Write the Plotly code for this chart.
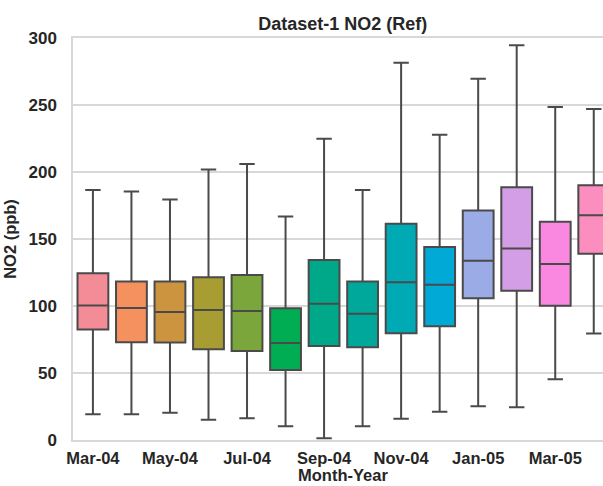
import plotly.graph_objects as go

# Monthly NO2 distribution summaries (ppb)
months = ["Mar-04", "Apr-04", "May-04", "Jun-04", "Jul-04", "Aug-04", "Sep-04",
          "Oct-04", "Nov-04", "Dec-04", "Jan-05", "Feb-05", "Mar-05", "Apr-05"]
lower_whisker = [19.2, 19.2, 20.4, 15.2, 16.2, 10.2, 1.3, 10.2, 15.9, 21.1, 25.2, 24.4, 45.3, 79.4]
q1 = [82.4, 73.0, 72.7, 67.7, 66.5, 52.3, 70.2, 69.2, 79.7, 84.9, 105.8, 111.3, 100.1, 138.9]
median = [100.3, 98.6, 95.6, 97.1, 96.3, 72.4, 101.6, 94.3, 117.8, 115.8, 133.7, 142.9, 131.4, 167.8]
q3 = [124.5, 118.2, 118.2, 121.5, 123.2, 98.3, 134.4, 118.2, 161.3, 144.1, 171.2, 188.7, 162.8, 190.2]
upper_whisker = [186.5, 185.5, 179.5, 201.9, 205.9, 166.8, 224.8, 186.5, 281.6, 227.8, 269.6, 294.5, 248.5, 247.0]
tick_months = months[::2]
y_ticks = [0, 50, 100, 150, 200, 250, 300]

colors = ["#F48C97", "#F5915E", "#CD9440", "#A89D33", "#7BA63B", "#00AD52", "#00A88A",
          "#00A89B", "#00AAB5", "#00A9D6", "#9BABE6", "#D49EE6", "#FA88E0", "#FB8DBF"]

edge = "#4a4a4a"
grid = "#d8d8d8"
txt = "#262626"
fam = "Liberation Sans, Arial, sans-serif"

fig = go.Figure()
for i, m in enumerate(months):
    fig.add_trace(go.Box(
        x=[m], q1=[q1[i]], median=[median[i]], q3=[q3[i]],
        lowerfence=[lower_whisker[i]], upperfence=[upper_whisker[i]],
        fillcolor=colors[i], line=dict(color=edge, width=2),
        width=0.8, whiskerwidth=0.5, boxpoints=False,
        showlegend=False, hoverinfo="skip",
    ))

fig.update_layout(
    width=603, height=486,
    margin=dict(l=73, r=0, t=38, b=46),
    paper_bgcolor="white", plot_bgcolor="white",
    boxmode="overlay",
    font=dict(family=fam, color=txt, size=17, weight="bold"),
    title=dict(text="Dataset-1 NO2 (Ref)", x=0.509, xref="paper", xanchor="center",
               y=1 - 24 / 486, yref="container", yanchor="middle",
               font=dict(family=fam, size=18, color=txt, weight="bold")),
)

# x-axis title centred on the full axes width (the right part runs off the page)
fig.add_annotation(
    text="Month-Year", xref="paper", yref="paper", x=0.509, y=0,
    xanchor="center", yanchor="bottom", yshift=-46, showarrow=False,
    font=dict(family=fam, size=16.5, color=txt, weight="bold"),
)

fig.update_xaxes(
    type="category", categoryorder="array", categoryarray=months,
    range=[-0.517, 13.24],
    tickmode="array", tickvals=tick_months, ticktext=tick_months,
    showgrid=False, showline=True, linecolor=grid, linewidth=1.5, mirror=True,
    ticks="", ticklabelstandoff=2,
    tickfont=dict(family=fam, size=16.5, color=txt, weight="bold"),
)
fig.update_yaxes(
    range=[0, 300], tickmode="array", tickvals=y_ticks,
    showgrid=True, gridcolor=grid, gridwidth=1.5,
    zeroline=False, showline=True, linecolor=grid, linewidth=1.5,
    ticks="", ticklabelstandoff=11,
    tickfont=dict(family=fam, size=17, color=txt, weight="bold"),
    title=dict(text="NO2 (ppb)", standoff=8,
               font=dict(family=fam, size=16.5, color=txt, weight="bold")),
)

fig.write_html("out.html")
